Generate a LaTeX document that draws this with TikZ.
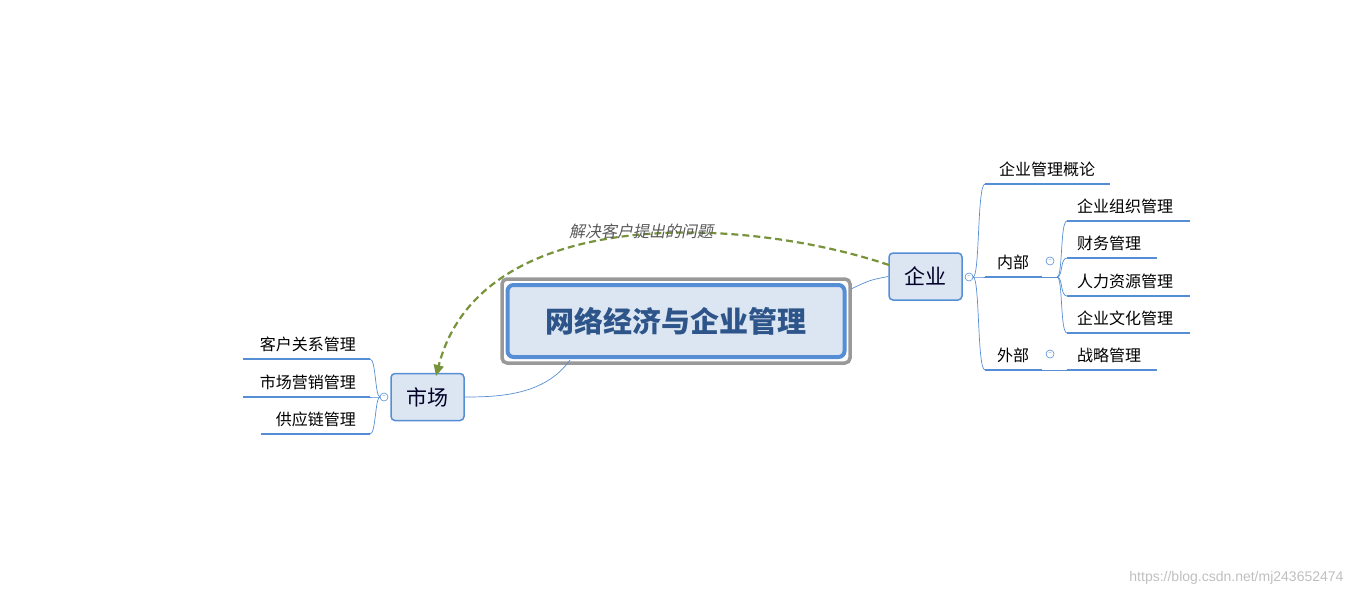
\documentclass[tikz,border=0pt]{standalone}
\usepackage{fontspec}
\setmainfont{Noto Sans CJK SC}
\newfontfamily\cjkslant[FakeSlant=0.2]{Noto Sans CJK SC}
\newfontfamily\wm{Liberation Sans}
\usetikzlibrary{arrows.meta}
\definecolor{bl}{HTML}{558ED5}
\definecolor{fillb}{HTML}{DCE6F2}
\definecolor{tb}{HTML}{2E558A}
\definecolor{gr}{HTML}{77933C}
\tikzset{
  lbl/.style={font=\fontsize{16}{16}\selectfont, inner sep=0pt, anchor=base},
  uline/.style={bl, line width=2.2pt},
  br/.style={bl, line width=0.7pt},
  topic/.style={draw=bl, fill=fillb, line width=1.5pt, rounded corners=4pt, minimum width=73pt, minimum height=47pt, font=\fontsize{21}{21}\selectfont, text=black!85!blue},
  col/.style={circle, draw=bl, line width=0.6pt, minimum size=8pt, inner sep=0pt, fill=white, font=\fontsize{6}{6}\selectfont, text=bl}
}
\begin{document}
\begin{tikzpicture}[x=1pt,y=-1pt]
\useasboundingbox (0,0) rectangle (1356,597);
% main
\node (mainout) [draw=black!40, line width=3.5pt, rounded corners=5pt, minimum width=348pt, minimum height=84pt] at (676,321) {};
\node (main) [draw=bl, fill=fillb, line width=4pt, rounded corners=6pt, minimum width=337pt, minimum height=72pt, font=\bfseries\fontsize{29}{29}\selectfont, text=tb] at (676,321) {网络经济与企业管理};
\node (qy) [topic] at (925.5,276.5) {企业};
\node (sc) [topic] at (427.5,397) {市场};
\coordinate (m1) at (851,289);
\coordinate (m2) at (570,360);
\draw[br] (m1) .. controls (870,280) .. (qy.west);
\draw[br] (m2) .. controls (545,395) and (500,397) .. (sc.east);
% enterprise branch
\node (c1) [col] at (969,277) {−};
\coordinate (b0) at (973,277);
\foreach \y/\e [count=\i] in {184/1110, 277/1042, 370/1042} {
  \coordinate (s\i) at (985,\y);
  \coordinate (e\i) at (\e,\y);
  \draw[br] (b0) .. controls (980,277) and (977,\y) .. (s\i);
  \draw[uline] (s\i) -- (e\i);
}
\node[lbl] (t1) at (1047,175) {企业管理概论};
\node[lbl] (t2) at (1013,268) {内部};
\node[lbl] (t3) at (1013,361) {外部};
\node (c2) [col] at (1050,261) {−};
\node (c3) [col] at (1050,354) {−};
\coordinate (j1) at (1057,277);
\draw[br] (e2) -- (j1);
\foreach \y/\e/\t [count=\i] in {221/1190/企业组织管理, 258/1157/财务管理, 296/1190/人力资源管理, 333/1190/企业文化管理} {
  \coordinate (u\i) at (1067,\y);
  \coordinate (v\i) at (\e,\y);
  \draw[br] (j1) .. controls (1063,277) and (1060,\y) .. (u\i);
  \draw[uline] (u\i) -- (v\i);
  \node[lbl, anchor=base west] (w\i) at (1077,\y-9) {\t};
}
\coordinate (x1) at (1067,370);
\coordinate (x2) at (1157,370);
\draw[br] (e3) -- (x1);
\draw[uline] (x1) -- (x2);
\node[lbl, anchor=base west] (xt) at (1077,361) {战略管理};
% market branch
\node (c4) [col] at (384,397) {−};
\coordinate (mb) at (380,397);
\foreach \y/\s/\t [count=\i] in {359/243/客户关系管理, 397/243/市场营销管理, 434/261/供应链管理} {
  \coordinate (p\i) at (370,\y);
  \coordinate (q\i) at (\s,\y);
  \draw[br] (mb) .. controls (375,397) and (376,\y) .. (p\i);
  \draw[uline] (p\i) -- (q\i);
  \node[lbl, anchor=base east] (r\i) at (356,\y-9) {\t};
}
% relationship
\coordinate (ra) at (889,265);
\draw[gr, line width=2.2pt, dash pattern=on 7pt off 4pt, -{Triangle[length=11pt,width=10pt]}] (ra) .. controls (740,215) and (480,205) .. (436,376);
\node (rl) [font=\cjkslant\fontsize{16}{16}\selectfont, text=black!65, inner sep=1pt] at (641,231) {解决客户提出的问题};
% watermark
\node (wmk) [font=\wm\fontsize{14}{14}\selectfont, text=black!25, anchor=east] at (1347,578) {https://blog.csdn.net/mj243652474};
\end{tikzpicture}
\end{document}
